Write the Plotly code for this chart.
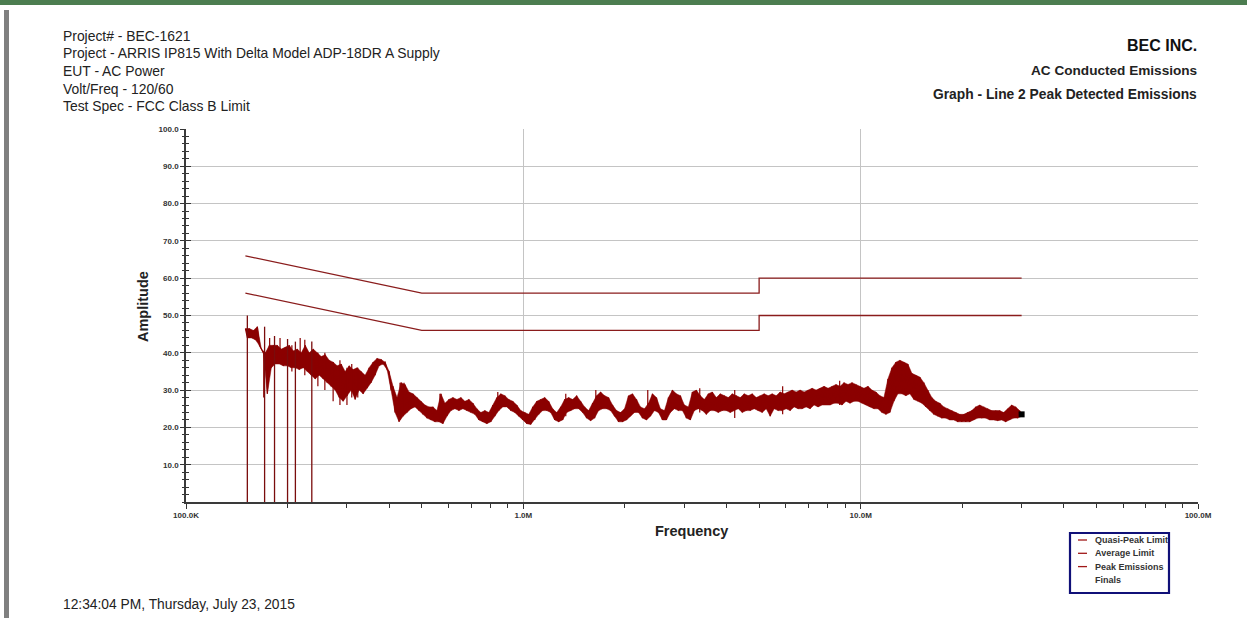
import numpy as np
import plotly.graph_objects as go

W, H = 1247, 618
# plot area in pixels
L, R, T, B = 186, 1198, 129, 502

# ---- data -------------------------------------------------------------
# FCC Class B conducted limits (MHz, dBuV)
qp_limit_mhz = [0.15, 0.5, 5.0, 5.0, 30.0]
qp_limit_dbuv = [66.0, 56.0, 56.0, 60.0, 60.0]
avg_limit_mhz = [0.15, 0.5, 5.0, 5.0, 30.0]
avg_limit_dbuv = [56.0, 46.0, 46.0, 50.0, 50.0]

# Peak detector sweep, 0.15 - 30 MHz: upper / lower excursion of each sweep cell
peak_hi = [
    46.5, 46.5, 46, 47, 41, 40, 42, 42, 42, 41,
    41.5, 42, 40.5, 41, 40, 42, 40, 41, 40, 39,
    39.5, 38, 37.5, 36.5, 37, 35, 36.5, 35.5, 36, 35,
    34, 36, 37.5, 38.5, 38.2, 37.5, 35, 31, 28, 32,
    31.5, 29.5, 29, 28, 27, 26, 25.5, 25.5, 24.5, 29,
    26.5, 27.5, 28, 27.5, 28, 27, 27.5, 26.5, 25, 24,
    24.5, 24, 26, 28, 29, 28.5, 27.5, 27, 26, 24.5,
    24, 23.5, 25.5, 27, 27.5, 28, 27, 25, 24, 25.5,
    27.5, 28, 27.5, 28.5, 27, 25.5, 24.5, 26.5, 28.5, 29.5,
    28.5, 28, 26, 24.5, 24, 25, 28.5, 29, 27.5, 25.5,
    25, 26.5, 29, 28, 25, 24.5, 28, 30, 29, 28.5,
    26, 25.5, 29.5, 30, 28.5, 27.5, 29, 29.5, 28, 29,
    28.5, 28, 29, 28.5, 28, 29, 28.5, 29, 28, 28.5,
    29, 28.5, 29, 28.5, 29.5, 29, 29.5, 30, 29.5, 30,
    29.5, 30, 30.5, 30, 30.5, 31, 30.5, 31, 31.5, 31,
    32, 31.5, 32, 31.5, 31, 30.5, 31, 30, 29.5, 28.5,
    28, 33, 36, 37.5, 38, 37.5, 37, 34.5, 34, 33.5,
    32, 30, 28, 27, 26.5, 25.5, 25, 24.5, 24, 23.5,
    23.5, 24, 24.5, 25.5, 26, 25.5, 25, 24.5, 24.5, 24.5,
    24, 25, 26, 25.5, 24.5,
]
peak_lo = [
    44, 44, 43.5, 42, 40, 29, 36, 37, 37, 36.5,
    36.5, 36, 36, 35.5, 36, 35, 34, 33, 34, 33,
    32, 31, 30, 28, 27, 28.5, 30, 27.5, 30, 29,
    30.5, 32, 34, 36.5, 37, 35.5, 30, 24, 21.5, 23,
    24, 25, 25.5, 24.5, 23.5, 22.5, 22, 21.5, 21.5, 21,
    23, 24.5, 25, 24.5, 25, 24.5, 24, 23.5, 22, 21.5,
    21, 21.5, 23, 24.5, 25.5, 25.5, 24.5, 24, 23, 22,
    21, 20.8, 22, 23.5, 24.5, 24.5, 24, 22, 21.5, 22,
    24, 24.5, 25, 25, 24, 22.5, 21.8, 22.5, 24.5, 25,
    25, 24.5, 23, 21.5, 21.5, 22, 23, 24, 24, 22.5,
    22, 23, 24.5, 24, 22, 22, 24, 25, 24.5, 24.5,
    22.5, 22, 24.5, 25, 24.5, 23.5, 24.5, 24.5, 24, 24.5,
    24.5, 24, 24.5, 25, 24, 24.5, 24.5, 25, 24.5, 24,
    25, 23, 25, 24.5, 24.5, 25, 24.5, 25.5, 25, 25,
    25.5, 25, 26, 25.5, 26, 26, 26, 26.5, 26.5, 26,
    27, 26.5, 27, 27, 26.5, 26, 25.5, 25, 25, 24,
    23.5, 24, 27, 29, 29, 28.5, 29, 27.5, 27, 26.5,
    25.5, 24.5, 23.5, 23, 22.5, 22.5, 22, 22, 21.5, 21.5,
    21.5, 21.5, 22, 22.5, 22.5, 22.5, 22, 22, 21.8, 22,
    21.5, 22, 22.5, 22.5, 23,
]
sweep_start_mhz, sweep_stop_mhz = 0.15, 30.0

# isolated narrow excursions of the peak reading (MHz, top dBuV, bottom dBuV)
spike_mhz = [0.170, 0.177, 0.190, 0.206, 0.218, 0.225, 0.246, 0.258, 0.273,
             0.286, 0.300, 0.310, 0.323, 0.431, 0.443, 0.566, 0.840, 1.336,
             1.640, 2.338, 3.334, 4.233, 5.871, 8.665]
spike_top_dbuv = [40.0, 44.0, 44.0, 42.0, 44.0, 43.5, 40.0, 40.0, 37.0,
                  38.0, 36.0, 37.0, 36.0, 32.0, 32.0, 29.0, 29.5, 29.0,
                  30.0, 30.0, 30.5, 30.0, 31.0, 32.5]
spike_bottom_dbuv = [28.0, 38.0, 37.0, 35.0, 36.0, 34.0, 31.0, 30.0, 27.0,
                     26.0, 26.0, 28.0, 28.0, 22.0, 24.0, 22.0, 25.0, 23.0,
                     24.0, 23.5, 24.0, 22.5, 23.5, 26.0]

# sweep points where the peak reading spikes up and then drops out to 0
dropout_mhz = [0.152, 0.171, 0.183, 0.200, 0.211, 0.236]
dropout_top_dbuv = [50.0, 47.0, 44.5, 43.7, 43.0, 43.0]

# final marker at end of sweep
final_mhz = [30.0]
final_dbuv = [23.5]

x_tick_vals = [1e5, 1e6, 1e7, 1e8]
x_tick_text = ["100.0K", "1.0M", "10.0M", "100.0M"]
y_tick_vals = [10, 20, 30, 40, 50, 60, 70, 80, 90, 100]
y_tick_text = ["10.0", "20.0", "30.0", "40.0", "50.0", "60.0", "70.0", "80.0", "90.0", "100.0"]

header_left = [
    "Project# - BEC-1621",
    "Project - ARRIS IP815 With Delta Model ADP-18DR A Supply",
    "EUT - AC Power",
    "Volt/Freq - 120/60",
    "Test Spec - FCC Class B Limit",
]
legend_names = ["Quasi-Peak Limit", "Average Limit", "Peak Emissions", "Finals"]

# ---- figure -----------------------------------------------------------
TRACE = "#8b0000"
LIMIT = "#8a1c1c"
TXT = "#222222"
FONT = "Liberation Sans, Arial, sans-serif"
NARROW = "Liberation Sans Narrow, Arial Narrow, Liberation Sans, Arial, sans-serif"


def px(x):
    return (x - L) / (R - L)


def py(y):
    return (B - y) / (B - T)


# sweep grid: each cell has an upper and a lower reading
n_cells = len(peak_hi)
peak_hz = np.geomspace(sweep_start_mhz * 1e6, sweep_stop_mhz * 1e6, 2 * n_cells)
peak_dbuv = np.empty(2 * n_cells)
peak_dbuv[0::2] = peak_hi
peak_dbuv[1::2] = peak_lo

# solid body of the trace between the two excursions
band_x = np.concatenate([peak_hz[0::2], peak_hz[1::2][::-1]])
band_y = np.concatenate([np.array(peak_hi), np.array(peak_lo)[::-1]])


def strokes(freqs_mhz, tops, bottoms):
    xs, ys = [], []
    for f, a, b in zip(freqs_mhz, tops, bottoms):
        xs += [f * 1e6, f * 1e6, None]
        ys += [a, b, None]
    return xs, ys


spike_x, spike_y = strokes(spike_mhz, spike_top_dbuv, spike_bottom_dbuv)
drop_x, drop_y = strokes(dropout_mhz, dropout_top_dbuv, [0.0] * len(dropout_mhz))

fig = go.Figure()
fig.add_trace(go.Scatter(
    x=[f * 1e6 for f in qp_limit_mhz], y=qp_limit_dbuv, mode="lines",
    line=dict(color=LIMIT, width=1.3), name=legend_names[0], showlegend=False))
fig.add_trace(go.Scatter(
    x=[f * 1e6 for f in avg_limit_mhz], y=avg_limit_dbuv, mode="lines",
    line=dict(color=LIMIT, width=1.3), name=legend_names[1], showlegend=False))
fig.add_trace(go.Scatter(
    x=band_x, y=band_y, mode="lines", fill="toself", fillcolor=TRACE,
    line=dict(color=TRACE, width=0.5), showlegend=False, hoverinfo="skip"))
fig.add_trace(go.Scatter(
    x=peak_hz, y=peak_dbuv, mode="lines",
    line=dict(color=TRACE, width=1.2), name=legend_names[2], showlegend=False))
fig.add_trace(go.Scatter(
    x=spike_x, y=spike_y, mode="lines", connectgaps=False,
    line=dict(color=TRACE, width=1.2), showlegend=False, hoverinfo="skip"))
fig.add_trace(go.Scatter(
    x=drop_x, y=drop_y, mode="lines", connectgaps=False,
    line=dict(color="#7a0c0c", width=1.3), showlegend=False, hoverinfo="skip"))
fig.add_trace(go.Scatter(
    x=[f * 1e6 for f in final_mhz], y=final_dbuv, mode="markers",
    marker=dict(symbol="square", size=6, color="black"),
    name=legend_names[3], showlegend=False))

# overlay axis that only draws the inward half of the crossing y ticks
fig.add_trace(go.Scatter(x=[1e5], y=[0], yaxis="y2", mode="markers",
                         marker=dict(opacity=0), showlegend=False, hoverinfo="skip"))

minor_x = [k * 10 ** d for d in (5, 6, 7) for k in range(2, 10)]

fig.update_layout(
    width=W, height=H,
    margin=dict(l=L, r=W - R, t=T, b=H - B),
    paper_bgcolor="white", plot_bgcolor="white",
    font=dict(family=FONT, color=TXT),
    showlegend=False,
    xaxis=dict(
        type="log", range=[5, 8],
        tickmode="array", tickvals=x_tick_vals, ticktext=x_tick_text,
        tickfont=dict(family=NARROW, size=8, color="#333333", weight="bold"),
        ticks="outside", ticklen=5, tickcolor="#333333", tickwidth=1,
        showgrid=True, gridcolor="#c4c4c4", gridwidth=1.2,
        showline=True, linecolor="#3a3a3a", linewidth=1.5,
        minor=dict(tickmode="array", tickvals=minor_x, ticks="outside",
                   ticklen=4, tickcolor="#333333", showgrid=False),
        zeroline=False,
    ),
    yaxis=dict(
        range=[0, 100],
        tickmode="array", tickvals=y_tick_vals, ticktext=y_tick_text,
        tickfont=dict(family=NARROW, size=8, color="#333333", weight="bold"),
        ticks="outside", ticklen=4, tickcolor="#333333", tickwidth=1,
        showgrid=True, gridcolor="#c4c4c4", gridwidth=1.2,
        showline=True, linecolor="#3a3a3a", linewidth=1.5,
        minor=dict(dtick=2, ticks="outside", ticklen=2, tickcolor="#333333",
                   showgrid=False),
        zeroline=False,
    ),
    yaxis2=dict(
        range=[0, 100], overlaying="y", side="left", anchor="x",
        tickmode="array", tickvals=y_tick_vals, showticklabels=False,
        ticks="inside", ticklen=5, tickcolor="#333333", tickwidth=1,
        minor=dict(dtick=2, ticks="inside", ticklen=3, tickcolor="#333333"),
        showgrid=False, showline=False, zeroline=False,
    ),
)

ann = []
# header, left block
for i, line in enumerate(header_left):
    ann.append(dict(text=line, x=px(61), y=py(36 + 17.5 * i), xanchor="left",
                    yanchor="middle", font=dict(size=13.9, color=TXT)))
# header, right block
ann.append(dict(text="<b>BEC INC.</b>", x=px(1199), y=py(45), xanchor="right",
                yanchor="middle", font=dict(size=16, color="#111111")))
ann.append(dict(text="<b>AC Conducted Emissions</b>", x=px(1199), y=py(71),
                xanchor="right", yanchor="middle", font=dict(size=13.6, color=TXT)))
ann.append(dict(text="<b>Graph - Line 2 Peak Detected Emissions</b>", x=px(1199),
                y=py(95), xanchor="right", yanchor="middle",
                font=dict(size=13.8, color=TXT)))
# axis titles
ann.append(dict(text="<b>Amplitude</b>", x=px(143), y=py(307), textangle=-90,
                xanchor="center", yanchor="middle", font=dict(size=14.5, color=TXT)))
ann.append(dict(text="<b>Frequency</b>", x=px(691), y=py(531), xanchor="center",
                yanchor="middle", font=dict(size=14.5, color=TXT)))
# timestamp
ann.append(dict(text="12:34:04 PM, Thursday, July 23, 2015", x=px(61), y=py(604),
                xanchor="left", yanchor="middle", font=dict(size=13.8, color=TXT)))
# legend entries
for i, name in enumerate(legend_names):
    ann.append(dict(text="<b>" + name + "</b>", x=px(1093), y=py(540 + 13.3 * i),
                    xanchor="left", yanchor="middle",
                    font=dict(family=NARROW, size=9, color="#333333")))
for a in ann:
    a.update(xref="paper", yref="paper", showarrow=False)
fig.update_layout(annotations=ann)

shapes = [
    # window frame: green top band and grey left edge
    dict(type="rect", xref="paper", yref="paper", x0=px(0), x1=px(W), y0=py(0),
         y1=py(5), fillcolor="#4c7d50", line=dict(width=0), layer="above"),
    dict(type="rect", xref="paper", yref="paper", x0=px(4), x1=px(9), y0=py(10),
         y1=py(H), fillcolor="#808080", line=dict(width=0), layer="above"),
    # legend box
    dict(type="rect", xref="paper", yref="paper", x0=px(1070), x1=px(1169),
         y0=py(533), y1=py(593), fillcolor="white",
         line=dict(color="#101078", width=2.2), layer="below"),
]
for i in range(3):
    shapes.append(dict(type="line", xref="paper", yref="paper", x0=px(1078),
                       x1=px(1087), y0=py(540 + 13.3 * i), y1=py(540 + 13.3 * i),
                       line=dict(color="#a01818", width=1.3), layer="above"))
fig.update_layout(shapes=shapes)

fig.write_html("out.html")
